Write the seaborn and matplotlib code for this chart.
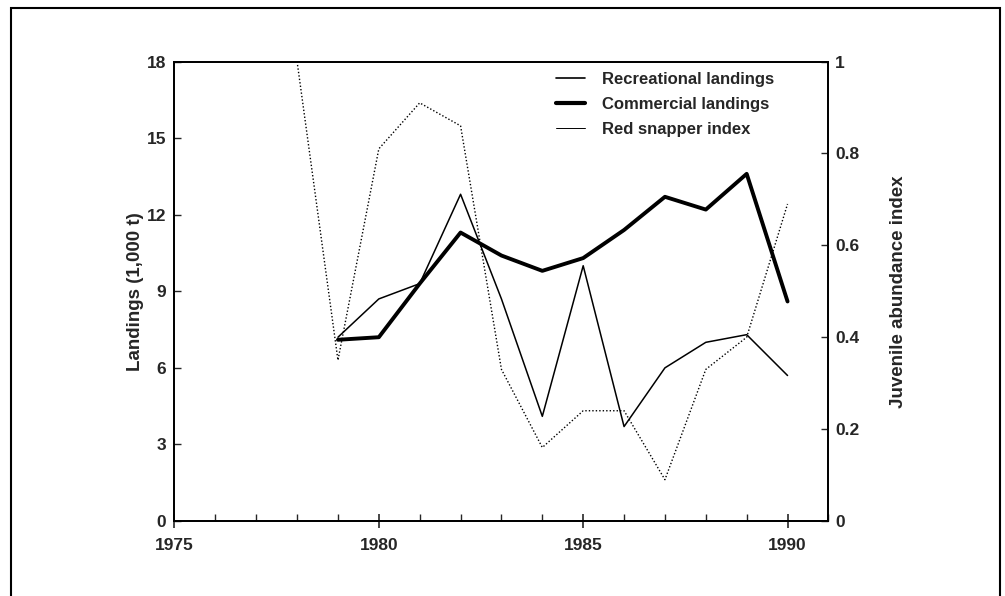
import numpy as np
import pandas as pd
import matplotlib
matplotlib.use('Agg')
import matplotlib.pyplot as plt
from matplotlib.lines import Line2D
from matplotlib.patches import Rectangle
from matplotlib.ticker import MultipleLocator
import seaborn as sns

# Data
years = [1979, 1980, 1981, 1982, 1983, 1984, 1985, 1986, 1987, 1988, 1989, 1990]
recreational = [7.2, 8.7, 9.3, 12.8, 8.7, 4.1, 10.0, 3.7, 6.0, 7.0, 7.3, 5.7]
commercial = [7.1, 7.2, 9.3, 11.3, 10.4, 9.8, 10.3, 11.4, 12.7, 12.2, 13.6, 8.6]

index_years = [1978, 1979, 1980, 1981, 1982, 1983, 1984, 1985, 1986, 1987, 1988, 1989, 1990]
snapper_index = [1.0, 0.35, 0.81, 0.91, 0.86, 0.33, 0.16, 0.24, 0.24, 0.09, 0.33, 0.40, 0.69]

landings = pd.DataFrame({'year': years, 'recreational': recreational, 'commercial': commercial})
juvenile = pd.DataFrame({'year': index_years, 'index': snapper_index})

sns.set_style('ticks')
plt.rcParams['font.family'] = ['Liberation Sans', 'DejaVu Sans']
plt.rcParams['font.weight'] = 'bold'

fig = plt.figure(figsize=(10.05, 5.96), dpi=100)
ax = fig.add_axes([0.1736, 0.1258, 0.6507, 0.771])
ax2 = ax.twinx()

sns.lineplot(data=landings, x='year', y='recreational', ax=ax, color='black', linewidth=1.1)
sns.lineplot(data=landings, x='year', y='commercial', ax=ax, color='black', linewidth=2.8)
sns.lineplot(data=juvenile, x='year', y='index', ax=ax2, color='black', linewidth=1.0,
             linestyle=(0, (1, 1.5)))

ax.set_xlim(1975, 1991)
ax.set_ylim(0, 18)
ax2.set_ylim(0, 1)
ax.xaxis.set_major_locator(MultipleLocator(5))
ax.xaxis.set_minor_locator(MultipleLocator(1))
ax.yaxis.set_major_locator(MultipleLocator(3))
ax2.set_yticks([0, 0.2, 0.4, 0.6, 0.8, 1.0])
ax2.set_yticklabels(['0', '0.2', '0.4', '0.6', '0.8', '1'])

ax.tick_params(axis='x', which='major', direction='inout', length=10, width=1.2, labelsize=12.5, pad=7)
ax.tick_params(axis='x', which='minor', direction='in', length=5, width=1.0)
ax.tick_params(axis='y', direction='in', length=5, width=1.0, labelsize=12.5, pad=6)
ax2.tick_params(axis='y', direction='in', length=5, width=1.0, labelsize=12.5, pad=5)

for a in (ax, ax2):
    for s in a.spines.values():
        s.set_linewidth(1.3)
        s.set_color('black')

ax.set_xlabel('')
ax.set_ylabel('Landings (1,000 t)', fontsize=13.5, fontweight='bold', labelpad=2)
ax2.set_ylabel('Juvenile abundance index', fontsize=13.5, fontweight='bold', labelpad=22)

handles = [Line2D([], [], color='black', linewidth=1.2),
           Line2D([], [], color='black', linewidth=3.0),
           Line2D([], [], color='black', linewidth=0.7)]
labels = ['Recreational landings', 'Commercial landings', 'Red snapper index']
ax.legend(handles, labels, loc='upper right', bbox_to_anchor=(0.94, 1.01), frameon=False,
          prop={'size': 12, 'weight': 'bold'}, handlelength=1.75, handletextpad=1.0,
          labelspacing=0.6)

# Outer frame around the figure
fig.patches.append(Rectangle((11 / 1005, -0.1), 989 / 1005, 1.1 - 8 / 596,
                             transform=fig.transFigure, fill=False,
                             edgecolor='black', linewidth=1.5))

fig.savefig('out.png', dpi=100)
